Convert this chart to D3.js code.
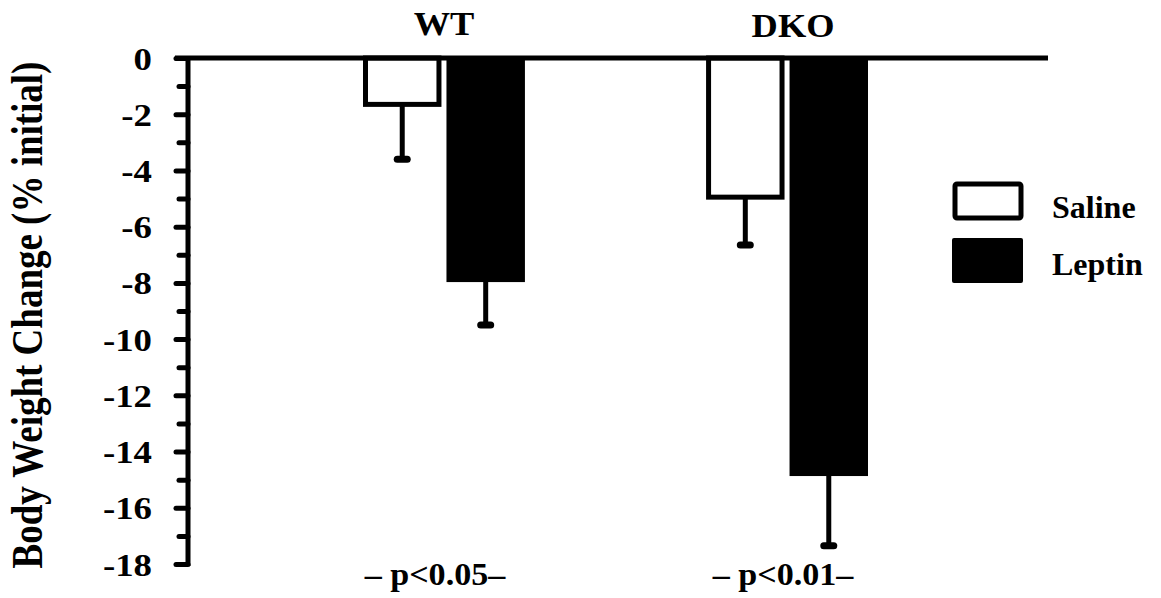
<!DOCTYPE html>
<html><head><meta charset="utf-8">
<script src="https://cdn.jsdelivr.net/npm/d3@7/dist/d3.min.js"></script>
<style>body{margin:0;background:#fff}svg{display:block}text{font-family:"Liberation Serif","Times New Roman",serif;font-weight:bold;fill:#000}</style>
</head><body><svg id="c" width="1161" height="598"></svg>
<script>
const groups = ["WT", "DKO"];
const treatments = ["Saline", "Leptin"];
const salineMeans = [-1.65, -4.95];
const salineErrEnd = [-3.6, -6.65];
const leptinMeans = [-7.9, -14.8];
const leptinErrEnd = [-9.5, -17.35];
const pLabels = ["\u2013 p<0.05\u2013", "\u2013 p<0.01\u2013"];
const majorTicks = [0, -2, -4, -6, -8, -10, -12, -14, -16, -18];
const minorTicks = [-1, -3, -5, -7, -9, -11, -13, -15, -17];
const yTitle = "Body Weight Change (% initial)";

const svg = d3.select("#c");
const y = d3.scaleLinear().domain([0, -18]).range([58, 564]);
const axisX = 188;
const xG = d3.scaleBand().domain(groups).range([363, 868]).paddingInner(0.528).paddingOuter(0);
const xT = d3.scaleBand().domain(treatments).range([0, xG.bandwidth()]).paddingInner(0.06);

const data = [];
groups.forEach((g, i) => {
  data.push({g, t: "Saline", v: salineMeans[i], e: salineErrEnd[i]});
  data.push({g, t: "Leptin", v: leptinMeans[i], e: leptinErrEnd[i]});
});

// error bars
const eb = svg.append("g");
data.forEach(d => {
  const cx = xG(d.g) + xT(d.t) + xT.bandwidth() / 2;
  eb.append("line").attr("x1", cx).attr("x2", cx).attr("y1", y(d.v)).attr("y2", y(d.e))
    .attr("stroke", "#000").attr("stroke-width", 5);
  eb.append("line").attr("x1", cx - 5).attr("x2", cx + 5).attr("y1", y(d.e)).attr("y2", y(d.e))
    .attr("stroke", "#000").attr("stroke-width", 7).attr("stroke-linecap", "round");
});

// bars
data.forEach(d => {
  const x0 = xG(d.g) + xT(d.t);
  if (d.t === "Saline") {
    svg.append("rect").attr("x", x0 + 2.5).attr("y", y(0)).attr("width", xT.bandwidth() - 5)
      .attr("height", y(d.v) - y(0)).attr("fill", "#fff").attr("stroke", "#000").attr("stroke-width", 5);
  } else {
    svg.append("rect").attr("x", x0).attr("y", y(0)).attr("width", xT.bandwidth())
      .attr("height", y(d.v) - y(0) + 2).attr("fill", "#000");
  }
});

// axes
const gMinor = svg.append("g").attr("transform", `translate(${axisX},0)`)
  .call(d3.axisLeft(y).tickValues(minorTicks).tickSize(9).tickFormat(""));
gMinor.select(".domain").remove();
gMinor.selectAll(".tick line").attr("stroke", "#000").attr("stroke-width", 5).attr("stroke-linecap", "round");

const gMajor = svg.append("g").attr("transform", `translate(${axisX},0)`)
  .call(d3.axisLeft(y).tickValues(majorTicks).tickSize(12).tickFormat(d => d));
gMajor.select(".domain").remove();
gMajor.selectAll(".tick line").attr("stroke", "#000").attr("stroke-width", 5).attr("stroke-linecap", "round");
gMajor.selectAll(".tick text").attr("x", null).attr("dy", null)
  .attr("transform", "translate(-36,11) scale(1.15,1)")
  .attr("text-anchor", "end").style("font-size", "32px").style("font-family", null);

// axis line and zero line
svg.append("line").attr("x1", axisX).attr("x2", axisX).attr("y1", y(0)).attr("y2", y(-18) + 2)
  .attr("stroke", "#000").attr("stroke-width", 5);
svg.append("line").attr("x1", 175).attr("x2", 1048).attr("y1", y(0)).attr("y2", y(0))
  .attr("stroke", "#000").attr("stroke-width", 5);

// group labels
const labelShift = [0, 6];
groups.forEach((g, i) => {
  svg.append("text").text(g)
    .attr("transform", `translate(${xG(g) + xG.bandwidth() / 2 + labelShift[i]},${i === 0 ? 35 : 37}) scale(1.07,1)`)
    .attr("text-anchor", "middle").style("font-size", "34px");
});

// p labels
const pShift = [-9, -4];
groups.forEach((g, i) => {
  svg.append("text").text(pLabels[i])
    .attr("transform", `translate(${xG(g) + xG.bandwidth() / 2 + pShift[i]},585) scale(1.1,1)`)
    .attr("text-anchor", "middle").style("font-size", "31px");
});

// y title
svg.append("text").text(yTitle)
  .attr("transform", "translate(42,315) rotate(-90) scale(1,1.17)")
  .attr("text-anchor", "middle").style("font-size", "37px");

// legend
const legY = [182, 238];
const legH = [38, 45];
treatments.forEach((t, i) => {
  if (t === "Saline") {
    svg.append("rect").attr("x", 955).attr("y", legY[i] + 2).attr("width", 66).attr("height", legH[i] - 4)
      .attr("fill", "#fff").attr("stroke", "#000").attr("stroke-width", 5).attr("rx", 2);
  } else {
    svg.append("rect").attr("x", 952).attr("y", legY[i]).attr("width", 71).attr("height", legH[i])
      .attr("fill", "#000").attr("rx", 2);
  }
  svg.append("text").text(t).attr("x", 1052).attr("y", i === 0 ? 218 : 275)
    .style("font-size", "32px");
});
</script></body></html>
